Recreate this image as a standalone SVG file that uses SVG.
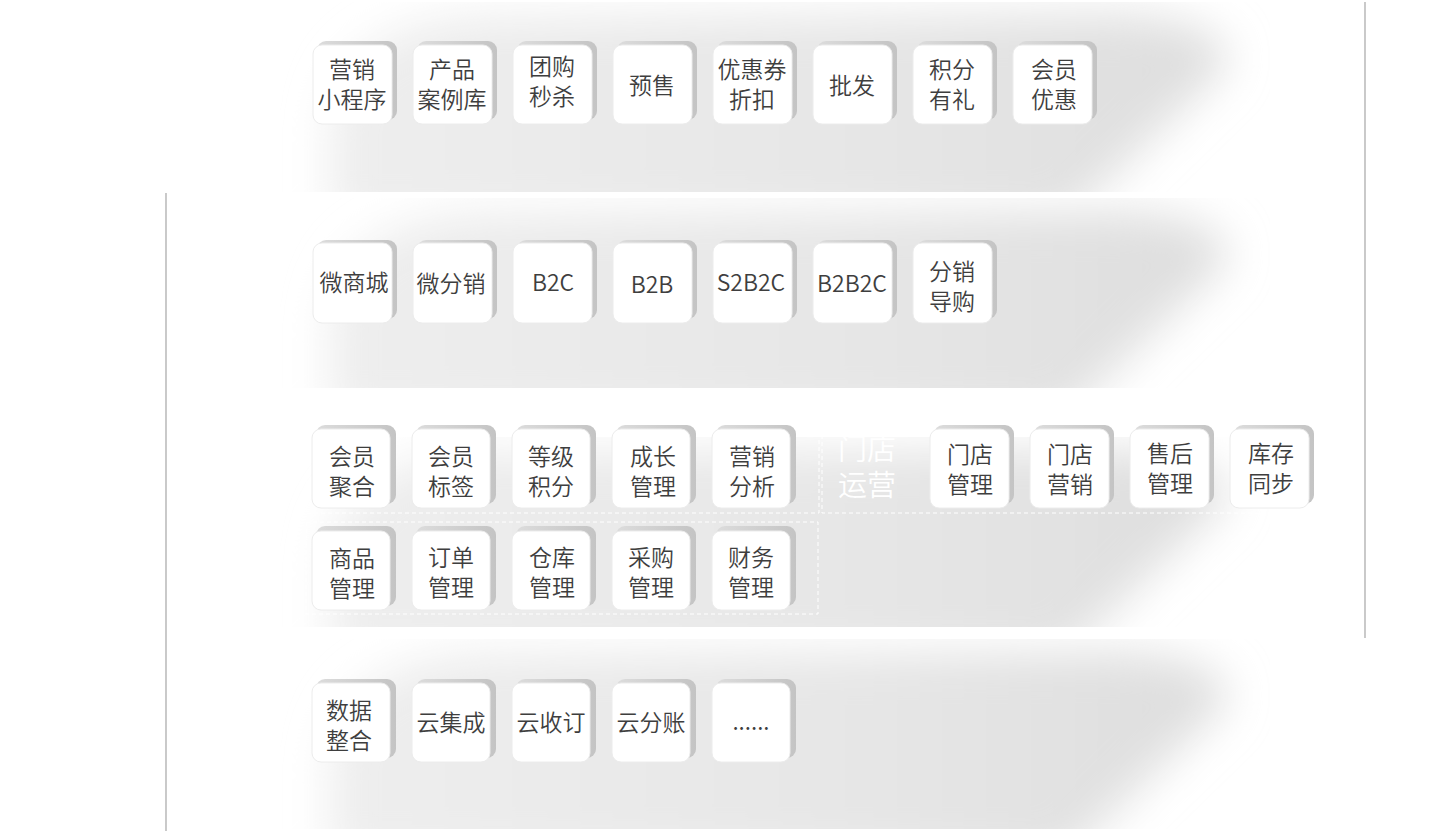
<svg xmlns="http://www.w3.org/2000/svg" width="1441" height="831" viewBox="0 0 1441 831">
<style>
.shadow{fill:url(#shg);}
.face{fill:#ffffff;stroke:#ececec;stroke-width:1;}
.lbl{font-family:"Noto Sans CJK SC","Noto Sans",sans-serif;font-size:23px;font-weight:350;fill:#3e3e3e;text-anchor:middle;}
.wlbl{font-family:"Noto Sans CJK SC","Noto Sans",sans-serif;font-size:29px;font-weight:350;fill:#ffffff;text-anchor:middle;}
.dash{fill:none;stroke:#ffffff;stroke-width:1;stroke-dasharray:4 3;}
.vline{stroke:#a6a6a6;stroke-width:1.2;}
.band{fill:url(#bandg);filter:url(#blur);}
</style>
<defs>
<linearGradient id="shg" x1="0" y1="0" x2="1" y2="0">
<stop offset="0" stop-color="#dcdcdc"/>
<stop offset="1" stop-color="#c4c4c4"/>
</linearGradient>
<linearGradient id="bandg" x1="330" y1="0" x2="1220" y2="0" gradientUnits="userSpaceOnUse">
<stop offset="0" stop-color="#eeeeee"/>
<stop offset="0.6" stop-color="#e6e6e6"/>
<stop offset="1" stop-color="#dedede"/>
</linearGradient>
<filter id="blur" filterUnits="userSpaceOnUse" x="150" y="-150" width="1250" height="500">
<feGaussianBlur stdDeviation="22"/>
</filter>
<clipPath id="c1"><rect x="280" y="0" width="990" height="190"/></clipPath>
<path id="bandshape" d="M 330 220 L 330 125 Q 336 25 475 16 L 1115 12 Q 1228 18 1228 62 L 1065 220 Z"/>
</defs>
<rect width="1441" height="831" fill="#ffffff"/>

<g id="bands">
<g transform="translate(0,2)" clip-path="url(#c1)"><use href="#bandshape" class="band"/></g>
<g transform="translate(0,198)" clip-path="url(#c1)"><use href="#bandshape" class="band"/></g>
<g transform="translate(0,437)" clip-path="url(#c1)"><use href="#bandshape" class="band"/></g>
<g transform="translate(0,639)" clip-path="url(#c1)"><use href="#bandshape" class="band"/></g>
</g>

<g id="connectors">
<line class="vline" x1="166" y1="193" x2="166" y2="831"/>
<line class="vline" x1="1365" y1="2" x2="1365" y2="638"/>
</g>

<g id="groups">
<rect class="dash" x="306" y="421" width="513" height="92"/>
<rect class="dash" x="822" y="421" width="498" height="92"/>
<rect class="dash" x="306" y="522" width="512" height="92"/>
<text class="wlbl" x="867" y="460">门店<tspan x="867" dy="36">运营</tspan></text>
</g>

<!-- Band 1 -->
<g id="n-yingxiao-xcx"><rect class="shadow" x="317" y="41" width="80" height="79" rx="9"/><rect class="face" x="313" y="45" width="79" height="79" rx="9"/><text class="lbl" x="352" y="78">营销<tspan x="352" dy="30">小程序</tspan></text></g>
<g id="n-chanpin"><rect class="shadow" x="417" y="41" width="80" height="79" rx="9"/><rect class="face" x="413" y="45" width="79" height="79" rx="9"/><text class="lbl" x="452" y="78">产品<tspan x="452" dy="30">案例库</tspan></text></g>
<g id="n-tuangou"><rect class="shadow" x="517" y="41" width="80" height="79" rx="9"/><rect class="face" x="513" y="45" width="79" height="79" rx="9"/><text class="lbl" x="552" y="75">团购<tspan x="552" dy="30">秒杀</tspan></text></g>
<g id="n-yushou"><rect class="shadow" x="617" y="41" width="80" height="79" rx="9"/><rect class="face" x="613" y="45" width="79" height="79" rx="9"/><text class="lbl" x="652" y="94">预售</text></g>
<g id="n-youhuiquan"><rect class="shadow" x="717" y="41" width="80" height="79" rx="9"/><rect class="face" x="713" y="45" width="79" height="79" rx="9"/><text class="lbl" x="752" y="78">优惠券<tspan x="752" dy="30">折扣</tspan></text></g>
<g id="n-pifa"><rect class="shadow" x="817" y="41" width="80" height="79" rx="9"/><rect class="face" x="813" y="45" width="79" height="79" rx="9"/><text class="lbl" x="852" y="94">批发</text></g>
<g id="n-jifen"><rect class="shadow" x="917" y="41" width="80" height="79" rx="9"/><rect class="face" x="913" y="45" width="79" height="79" rx="9"/><text class="lbl" x="952" y="78">积分<tspan x="952" dy="30">有礼</tspan></text></g>
<g id="n-huiyuan-yh"><rect class="shadow" x="1017" y="41" width="80" height="79" rx="9"/><rect class="face" x="1013" y="45" width="79" height="79" rx="9"/><text class="lbl" x="1054" y="78">会员<tspan x="1054" dy="30">优惠</tspan></text></g>

<!-- Band 2 -->
<g id="n-weishangcheng"><rect class="shadow" x="317" y="240" width="80" height="79" rx="9"/><rect class="face" x="313" y="243" width="79" height="80" rx="9"/><text class="lbl" x="354" y="291">微商城</text></g>
<g id="n-weifenxiao"><rect class="shadow" x="417" y="240" width="80" height="79" rx="9"/><rect class="face" x="413" y="243" width="79" height="80" rx="9"/><text class="lbl" x="451" y="292">微分销</text></g>
<g id="n-b2c"><rect class="shadow" x="517" y="240" width="80" height="79" rx="9"/><rect class="face" x="513" y="243" width="79" height="80" rx="9"/><text class="lbl" x="553" y="291">B2C</text></g>
<g id="n-b2b"><rect class="shadow" x="617" y="240" width="80" height="79" rx="9"/><rect class="face" x="613" y="243" width="79" height="80" rx="9"/><text class="lbl" x="652" y="293">B2B</text></g>
<g id="n-s2b2c"><rect class="shadow" x="717" y="240" width="80" height="79" rx="9"/><rect class="face" x="713" y="243" width="79" height="80" rx="9"/><text class="lbl" x="751" y="291">S2B2C</text></g>
<g id="n-b2b2c"><rect class="shadow" x="817" y="240" width="80" height="79" rx="9"/><rect class="face" x="813" y="243" width="79" height="80" rx="9"/><text class="lbl" x="852" y="292">B2B2C</text></g>
<g id="n-fenxiao-dg"><rect class="shadow" x="917" y="240" width="80" height="79" rx="9"/><rect class="face" x="913" y="243" width="79" height="80" rx="9"/><text class="lbl" x="952" y="280">分销<tspan x="952" dy="30">导购</tspan></text></g>

<!-- Band 3 row 1 -->
<g id="n-huiyuan-jh"><rect class="shadow" x="316" y="425" width="80" height="79" rx="9"/><rect class="face" x="312" y="429" width="78" height="79" rx="9"/><text class="lbl" x="352" y="465">会员<tspan x="352" dy="30">聚合</tspan></text></g>
<g id="n-huiyuan-bq"><rect class="shadow" x="416" y="425" width="80" height="79" rx="9"/><rect class="face" x="412" y="429" width="78" height="79" rx="9"/><text class="lbl" x="451" y="465">会员<tspan x="451" dy="30">标签</tspan></text></g>
<g id="n-dengji"><rect class="shadow" x="516" y="425" width="80" height="79" rx="9"/><rect class="face" x="512" y="429" width="78" height="79" rx="9"/><text class="lbl" x="551" y="465">等级<tspan x="551" dy="30">积分</tspan></text></g>
<g id="n-chengzhang"><rect class="shadow" x="616" y="425" width="80" height="79" rx="9"/><rect class="face" x="612" y="429" width="78" height="79" rx="9"/><text class="lbl" x="653" y="465">成长<tspan x="653" dy="30">管理</tspan></text></g>
<g id="n-yingxiao-fx"><rect class="shadow" x="716" y="425" width="80" height="79" rx="9"/><rect class="face" x="712" y="429" width="78" height="79" rx="9"/><text class="lbl" x="752" y="465">营销<tspan x="752" dy="30">分析</tspan></text></g>
<g id="n-mendian-gl"><rect class="shadow" x="934" y="425" width="80" height="79" rx="9"/><rect class="face" x="930" y="429" width="79" height="79" rx="9"/><text class="lbl" x="970" y="463">门店<tspan x="970" dy="30">管理</tspan></text></g>
<g id="n-mendian-yx"><rect class="shadow" x="1034" y="425" width="80" height="79" rx="9"/><rect class="face" x="1030" y="429" width="79" height="79" rx="9"/><text class="lbl" x="1070" y="463">门店<tspan x="1070" dy="30">营销</tspan></text></g>
<g id="n-shouhou"><rect class="shadow" x="1134" y="425" width="80" height="79" rx="9"/><rect class="face" x="1130" y="429" width="79" height="79" rx="9"/><text class="lbl" x="1170" y="462">售后<tspan x="1170" dy="30">管理</tspan></text></g>
<g id="n-kucun"><rect class="shadow" x="1234" y="425" width="80" height="79" rx="9"/><rect class="face" x="1230" y="429" width="79" height="79" rx="9"/><text class="lbl" x="1271" y="462">库存<tspan x="1271" dy="30">同步</tspan></text></g>

<!-- Band 3 row 2 -->
<g id="n-shangpin"><rect class="shadow" x="316" y="526" width="80" height="80" rx="9"/><rect class="face" x="312" y="531" width="78" height="79" rx="9"/><text class="lbl" x="352" y="567">商品<tspan x="352" dy="30">管理</tspan></text></g>
<g id="n-dingdan"><rect class="shadow" x="416" y="526" width="80" height="80" rx="9"/><rect class="face" x="412" y="531" width="78" height="79" rx="9"/><text class="lbl" x="451" y="566">订单<tspan x="451" dy="30">管理</tspan></text></g>
<g id="n-cangku"><rect class="shadow" x="516" y="526" width="80" height="80" rx="9"/><rect class="face" x="512" y="531" width="78" height="79" rx="9"/><text class="lbl" x="552" y="566">仓库<tspan x="552" dy="30">管理</tspan></text></g>
<g id="n-caigou"><rect class="shadow" x="616" y="526" width="80" height="80" rx="9"/><rect class="face" x="612" y="531" width="78" height="79" rx="9"/><text class="lbl" x="651" y="566">采购<tspan x="651" dy="30">管理</tspan></text></g>
<g id="n-caiwu"><rect class="shadow" x="716" y="526" width="80" height="80" rx="9"/><rect class="face" x="712" y="531" width="78" height="79" rx="9"/><text class="lbl" x="751" y="566">财务<tspan x="751" dy="30">管理</tspan></text></g>

<!-- Band 4 -->
<g id="n-shuju"><rect class="shadow" x="316" y="679" width="80" height="79" rx="9"/><rect class="face" x="312" y="683" width="78" height="79" rx="9"/><text class="lbl" x="349" y="719">数据<tspan x="349" dy="30">整合</tspan></text></g>
<g id="n-yunjicheng"><rect class="shadow" x="416" y="679" width="80" height="79" rx="9"/><rect class="face" x="412" y="683" width="78" height="79" rx="9"/><text class="lbl" x="451" y="731">云集成</text></g>
<g id="n-yunshouding"><rect class="shadow" x="516" y="679" width="80" height="79" rx="9"/><rect class="face" x="512" y="683" width="78" height="79" rx="9"/><text class="lbl" x="551" y="731">云收订</text></g>
<g id="n-yunfenzhang"><rect class="shadow" x="616" y="679" width="80" height="79" rx="9"/><rect class="face" x="612" y="683" width="78" height="79" rx="9"/><text class="lbl" x="651" y="731">云分账</text></g>
<g id="n-more"><rect class="shadow" x="716" y="679" width="80" height="79" rx="9"/><rect class="face" x="712" y="683" width="78" height="79" rx="9"/><text class="lbl" x="751" y="730">......</text></g>
</svg>
